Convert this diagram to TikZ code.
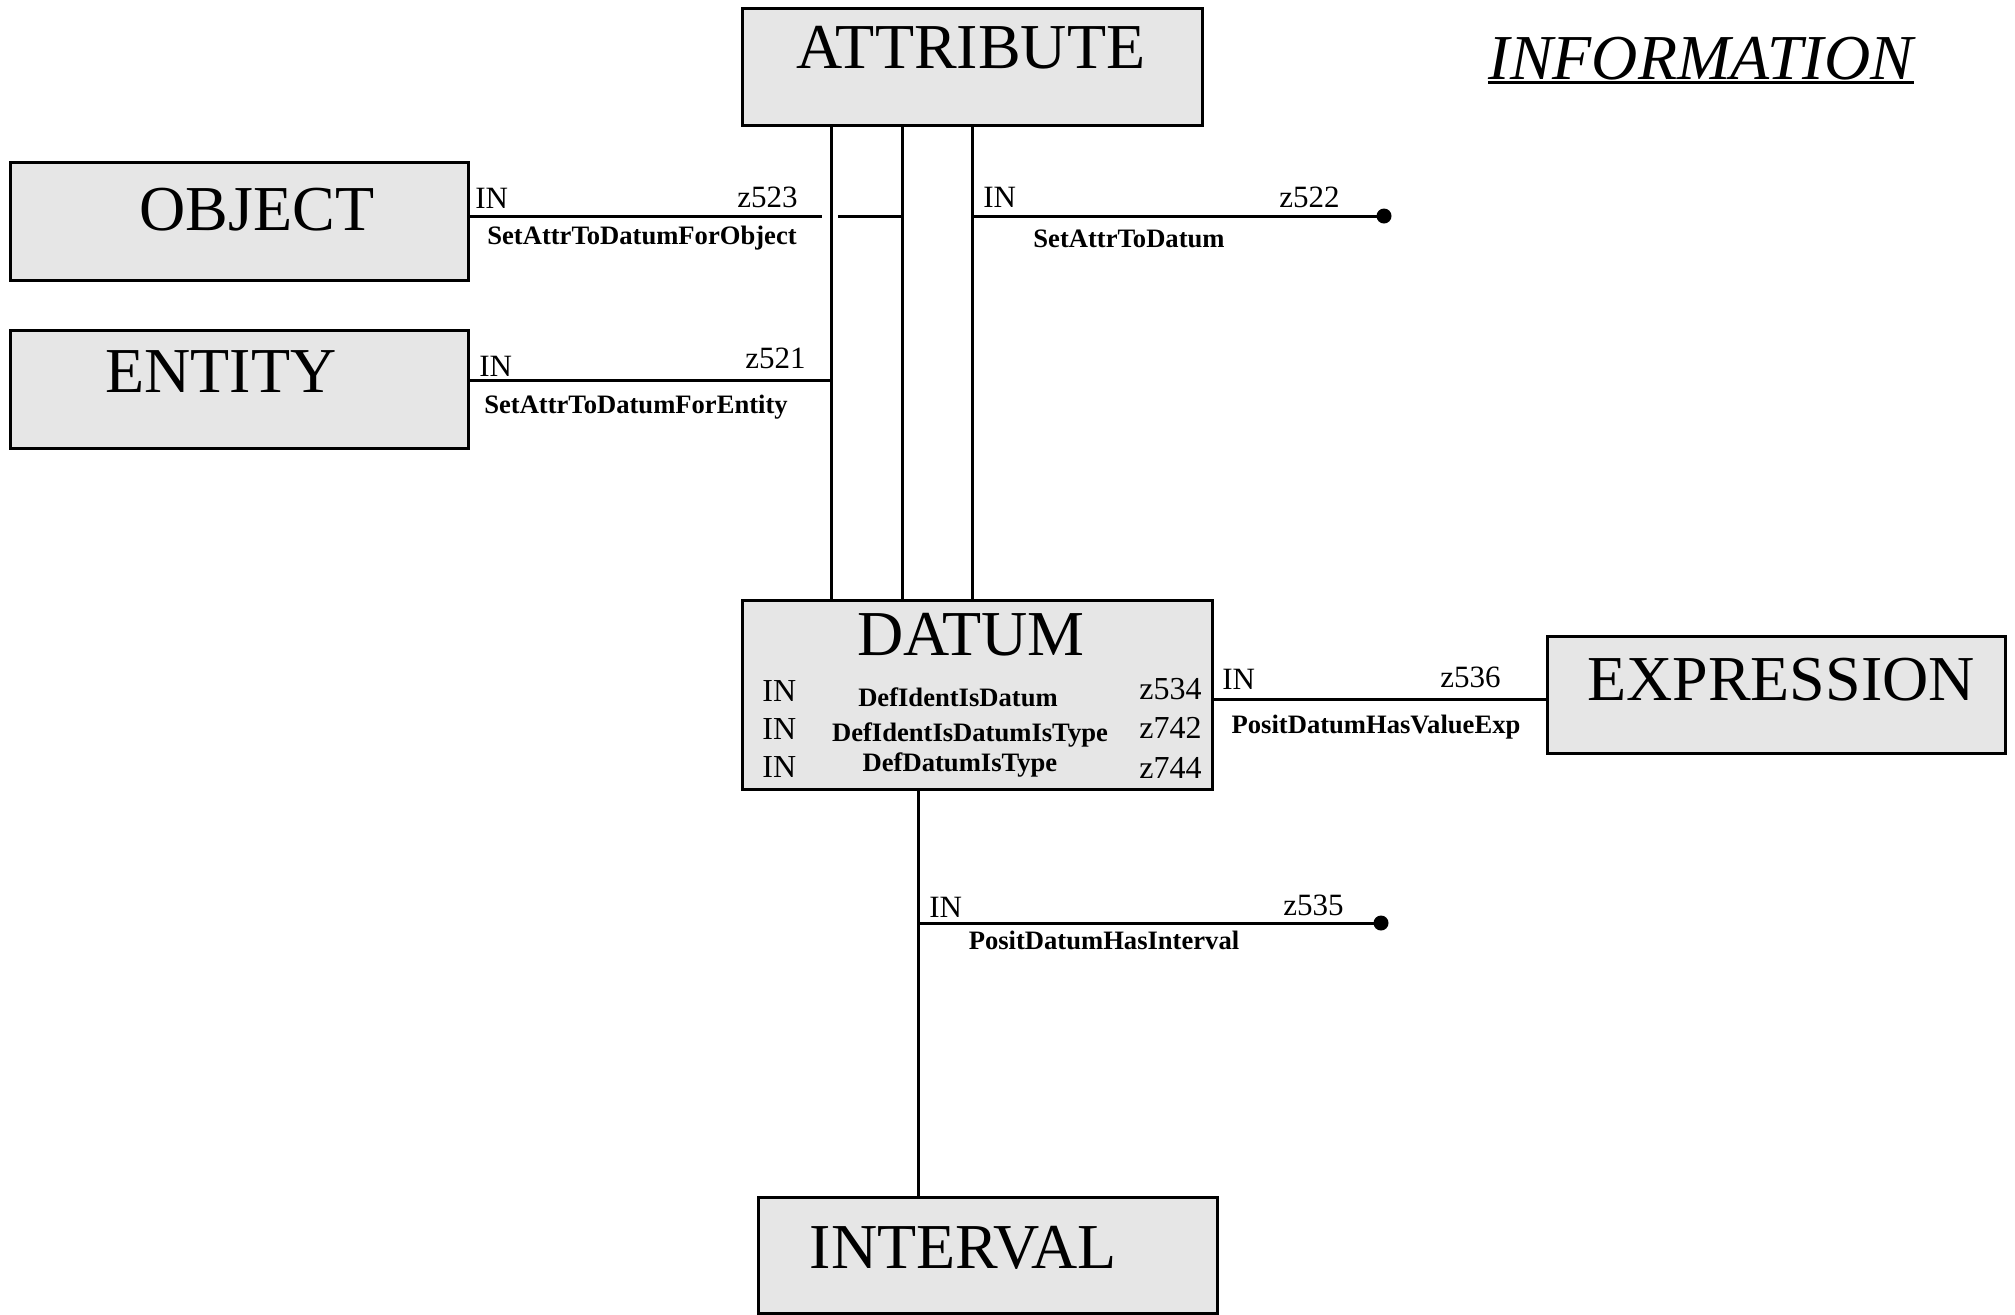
\documentclass[tikz,border=0pt]{standalone}
\usepackage{fontspec}
\setmainfont{Liberation Serif}
\definecolor{boxgray}{RGB}{230,230,230}
\begin{document}
\begin{tikzpicture}[x=0.5pt,y=-0.5pt,
  box/.style={draw, line width=1.5pt, fill=boxgray, rectangle, inner sep=0pt},
  big/.style={font=\fontsize{32}{36}\selectfont, inner sep=0pt, anchor=base},
  tagl/.style={font=\fontsize{15.5}{18}\selectfont, inner sep=0pt, anchor=base west},
  tagr/.style={font=\fontsize{15.5}{18}\selectfont, inner sep=0pt, anchor=base east},
  rel/.style={font=\bfseries\fontsize{13.3}{15}\selectfont, inner sep=0pt, anchor=base},
  conn/.style={line width=1.5pt},
  enddot/.style={circle, fill=black, inner sep=0pt, minimum size=7.5pt}]
\useasboundingbox (0,0) rectangle (2015,1314);

% boxes
\node[box, minimum width=230pt, minimum height=58.5pt] (attr) at (972,66.5) {};
\node[box, minimum width=229pt, minimum height=59pt] (obj) at (239,221) {};
\node[box, minimum width=229pt, minimum height=59pt] (ent) at (239,389) {};
\node[box, minimum width=235pt, minimum height=94.5pt] (dat) at (977,694.5) {};
\node[box, minimum width=229pt, minimum height=58.5pt] (expr) at (1776,694.5) {};
\node[box, minimum width=229.5pt, minimum height=58pt] (intv) at (987.5,1255) {};

% titles
\node[big] (tattr) at (971,68) {ATTRIBUTE};
\node[big] (tobj) at (257,230) {OBJECT};
\node[big] (tent) at (221,392) {ENTITY};
\node[big] (tdat) at (971,655) {DATUM};
\node[big] (texpr) at (1781,700) {EXPRESSION};
\node[big] (tintv) at (963,1268) {INTERVAL};
\node[font=\itshape\fontsize{32}{36}\selectfont, inner sep=0pt, anchor=base] (info) at (1701,79) {INFORMATION};
\draw[line width=1.6pt] ([yshift=-1.8pt]info.base west) -- ([yshift=-1.8pt]info.base east);

% helper coordinates
\coordinate (xL) at (831,0);
\coordinate (xM) at (902,0);
\coordinate (xR) at (972,0);
\coordinate (xI) at (918,0);
\coordinate (yO) at (0,216);
\coordinate (yE) at (0,380);
\coordinate (yX) at (0,699);
\coordinate (yI) at (0,923);
\coordinate (hopL) at (822,216);
\coordinate (hopR) at (838,216);
\node[enddot] (d1) at (1384,216) {};
\node[enddot] (d2) at (1381,923) {};

% vertical links ATTRIBUTE - DATUM
\draw[conn] (attr.south -| xL) -- (dat.north -| xL);
\draw[conn] (attr.south -| xM) -- (dat.north -| xM);
\draw[conn] (attr.south -| xR) -- (dat.north -| xR);

% OBJECT link (hops over left vertical)
\draw[conn] (obj.east |- yO) -- (hopL);
\draw[conn] (hopR) -- (xM |- yO);
% ENTITY link
\draw[conn] (ent.east |- yE) -- (xL |- yE);
% right stub
\draw[conn] (xR |- yO) -- (d1.center);
% EXPRESSION link
\draw[conn] (dat.east |- yX) -- (expr.west |- yX);
% INTERVAL link
\draw[conn] (dat.south -| xI) -- (intv.north -| xI);
\draw[conn] (xI |- yI) -- (d2.center);

% connector labels
\node[tagl] (in1) at (475,208) {IN};
\node[tagr] (z523) at (798,207) {z523};
\node[rel] (r523) at (642,244) {SetAttrToDatumForObject};

\node[tagl] (in2) at (479,376) {IN};
\node[tagr] (z521) at (806,368) {z521};
\node[rel] (r521) at (636,413) {SetAttrToDatumForEntity};

\node[tagl] (in3) at (983,207) {IN};
\node[tagr] (z522) at (1340,207) {z522};
\node[rel] (r522) at (1129,247) {SetAttrToDatum};

\node[tagl] (in4) at (1222,689) {IN};
\node[tagr] (z536) at (1501,687) {z536};
\node[rel] (r536) at (1376,733) {PositDatumHasValueExp};

\node[tagl] (in5) at (929,917) {IN};
\node[tagr] (z535) at (1344,915) {z535};
\node[rel] (r535) at (1104,949) {PositDatumHasInterval};

% DATUM rows
\node[tagl, font=\fontsize{16}{18}\selectfont] (din1) at (762,701) {IN};
\node[tagl, font=\fontsize{16}{18}\selectfont] (din2) at (762,739) {IN};
\node[tagl, font=\fontsize{16}{18}\selectfont] (din3) at (762,777) {IN};
\node[rel] (dr1) at (958,706) {DefIdentIsDatum};
\node[rel] (dr2) at (970,741) {DefIdentIsDatumIsType};
\node[rel] (dr3) at (960,771) {DefDatumIsType};
\node[tagr, font=\fontsize{16}{18}\selectfont] (dz1) at (1202,699) {z534};
\node[tagr, font=\fontsize{16}{18}\selectfont] (dz2) at (1202,738) {z742};
\node[tagr, font=\fontsize{16}{18}\selectfont] (dz3) at (1202,778) {z744};
\end{tikzpicture}
\end{document}
